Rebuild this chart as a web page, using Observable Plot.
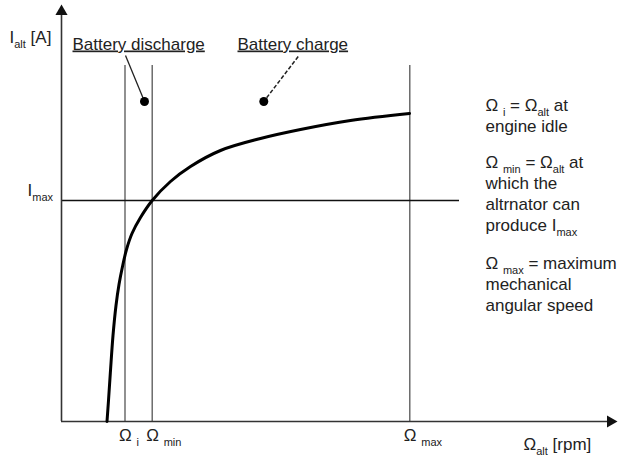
<!DOCTYPE html>
<html>
<head>
<meta charset="utf-8">
<script src="https://cdn.jsdelivr.net/npm/d3@7"></script>
<script src="https://cdn.jsdelivr.net/npm/@observablehq/plot@0.6"></script>
<style>
  html, body { margin: 0; padding: 0; background: #fff; }
  #chart svg text { white-space: pre; }
</style>
</head>
<body>
<div id="chart"></div>
<script>
// Alternator current curve (arbitrary units: x = alternator speed, y = current)
const curveRpm = [45.5, 47, 49, 51.5, 54.5, 57.5, 61, 65, 70.5, 79, 90.7, 109, 129, 159, 199, 239, 289, 348];
const curveAmp = [0, 21, 51, 86, 116, 137, 155, 172, 188, 204, 221, 240, 255, 271, 283, 292, 301, 308];

// Characteristic speeds
const speedNames = ["Ω _{i}", "Ω _{min}", "Ω _{max}"];
const speedValues = [63.5, 90.7, 348.3];
const speedLineTop = 356;

// Maximum current level
const iMax = 221;
const iMaxLineEnd = 398;

// Axis extents
const xAxisEnd = 547;
const yAxisEnd = 413;

// Region annotations
const regionNames = ["Battery discharge", "Battery charge"];
const regionLabelX = [11, 176];
const regionLabelY = [372, 372];
const regionLeaderX1 = [64, 236.7];
const regionLeaderY1 = [366, 365];
const regionDotX = [83, 202.3];
const regionDotY = [320, 320];

// Explanatory notes on the right
const noteLines = [
  "Ω _{i} = Ω_{alt} at", "engine idle",
  "Ω _{min} = Ω_{alt} at", "which the", "altrnator can", "produce I_{max}",
  "Ω _{max} = maximum", "mechanical", "angular speed"
];
const noteY = [311, 290, 254, 233, 212, 191, 153, 132, 111];
const noteX = 424;

// Axis titles
const yTitle = "I_{alt} [A]";
const xTitle = "Ω_{alt} [rpm]";
const iMaxLabel = "I_{max}";

const curve = curveRpm.map((x, i) => ({x, y: curveAmp[i]}));
const speeds = speedNames.map((name, i) => ({name, x: speedValues[i]}));
const regions = regionNames.map((name, i) => ({
  name, lx: regionLabelX[i], ly: regionLabelY[i],
  x1: regionLeaderX1[i], y1: regionLeaderY1[i], x2: regionDotX[i], y2: regionDotY[i], dashed: i === 1
}));
const notes = noteLines.map((t, i) => ({t, y: noteY[i]}));

const ink = "#222";
const font = 17;

const svg = Plot.plot({
  width: 626,
  height: 456,
  margin: 0,
  x: {domain: [-61, 565], axis: null},
  y: {domain: [-35, 421], axis: null},
  style: {fontFamily: "'Liberation Sans', Arial, sans-serif", background: "#fff", color: ink},
  marks: [
    // vertical speed lines
    Plot.ruleX(speeds, {x: "x", y1: 0, y2: speedLineTop, stroke: "#555", strokeWidth: 1.3}),
    // Imax line
    Plot.ruleY([iMax], {x1: 0, x2: iMaxLineEnd, stroke: "#111", strokeWidth: 1.7}),
    // axes
    Plot.ruleY([0], {x1: 0, x2: xAxisEnd, stroke: "#333", strokeWidth: 1.6}),
    Plot.ruleX([0], {y1: 0, y2: yAxisEnd - 2, stroke: "#333", strokeWidth: 1.6}),
    Plot.dot([{x: xAxisEnd + 2, y: 0}], {x: "x", y: "y", symbol: "triangle", rotate: 90, r: 4.5, fill: "#111", stroke: null}),
    Plot.dot([{x: 0, y: yAxisEnd - 3}], {x: "x", y: "y", symbol: "triangle", rotate: 0, r: 4.5, fill: "#111", stroke: null}),
    // curve
    Plot.line(curve, {x: "x", y: "y", stroke: "#000", strokeWidth: 3, curve: "catmull-rom"}),
    // leaders and dots
    Plot.link(regions.filter(d => !d.dashed), {x1: "x1", y1: "y1", x2: "x2", y2: "y2", stroke: "#222", strokeWidth: 1.3}),
    Plot.link(regions.filter(d => d.dashed), {x1: "x1", y1: "y1", x2: "x2", y2: "y2", stroke: "#222", strokeWidth: 1.5, strokeDasharray: "4,2"}),
    Plot.dot(regions, {x: "x2", y: "y2", r: 4.5, fill: "#000", stroke: null}),
    // labels
    Plot.text(regions, {x: "lx", y: "ly", text: "name", textAnchor: "start", lineAnchor: "bottom", fontSize: font, fill: ink}),
    Plot.text(notes, {x: noteX, y: "y", text: "t", textAnchor: "start", lineAnchor: "bottom", fontSize: font, fill: ink}),
    Plot.text(speeds, {x: d => d.x - 6, y: -19, text: "name", textAnchor: "start", lineAnchor: "bottom", fontSize: font, fill: ink}),
    Plot.text([yTitle], {x: -52, y: 379, text: d => d, textAnchor: "start", lineAnchor: "bottom", fontSize: font, fill: ink}),
    Plot.text([xTitle], {x: 462, y: -28, text: d => d, textAnchor: "start", lineAnchor: "bottom", fontSize: font, fill: ink}),
    Plot.text([iMaxLabel], {x: -34, y: iMax + 5, text: d => d, textAnchor: "start", lineAnchor: "bottom", fontSize: font, fill: ink})
  ]
});

// Turn "_{...}" markup into subscript tspans, underline region labels
const NS = "http://www.w3.org/2000/svg";
d3.select(svg).selectAll("text").each(function () {
  const s = this.textContent;
  if (regionNames.includes(s)) {
    this.style.textDecoration = "underline";
    return;
  }
  if (!s.includes("_{")) return;
  this.textContent = "";
  const parts = s.split(/(_\{[^}]*\})/);
  let shifted = false;
  for (const p of parts) {
    if (!p) continue;
    const sub = p.startsWith("_{");
    const t = document.createElementNS(NS, "tspan");
    t.textContent = sub ? p.slice(2, -1) : p;
    if (sub) {
      t.setAttribute("font-size", "11");
      if (!shifted) { t.setAttribute("dy", "5"); shifted = true; }
    } else if (shifted) {
      t.setAttribute("dy", "-5");
      shifted = false;
    }
    this.appendChild(t);
  }
});

document.getElementById("chart").appendChild(svg);
</script>
</body>
</html>
